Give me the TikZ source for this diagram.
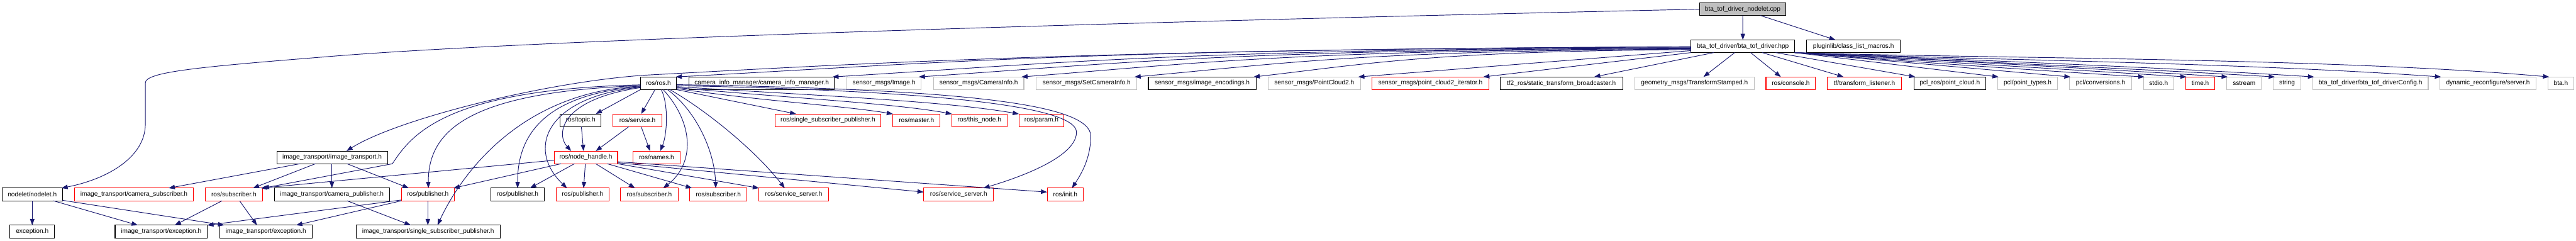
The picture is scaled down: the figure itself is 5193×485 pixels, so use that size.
\documentclass[tikz,border=0pt]{standalone}
\usepackage{fontspec}
\setmainfont{Liberation Sans}
\usetikzlibrary{arrows.meta}
\definecolor{edgeblue}{HTML}{191970}
\definecolor{boxgray}{HTML}{BFBFBF}
\definecolor{boxred}{HTML}{FF0000}
\tikzset{
  bx/.style={draw=black, line width=1.3pt, minimum height=25.6pt, inner sep=0pt, outer sep=0pt,
    anchor=north west, fill=white, font=\fontsize{12.86pt}{15pt}\selectfont},
  rbx/.style={bx, draw=boxred},
  gbx/.style={bx, draw=boxgray},
  edge/.style={draw=edgeblue, line width=1.2pt, -{Triangle[length=12.5pt,width=9pt]}},
}
\begin{document}
\begin{tikzpicture}[x=1pt,y=1pt]
\fill[white] (0,0) rectangle (5193,485);
\useasboundingbox (0,0) rectangle (5193,485);
% rank 0
\node[bx, fill=boxgray, minimum width=174pt] (n0) at (3426,479.3) {bta\_tof\_driver\_nodelet.cpp};
% rank 1
\node[bx, minimum width=209pt] (hpp) at (3409,404.6) {bta\_tof\_driver/bta\_tof\_driver.hpp};
\node[bx, minimum width=189pt] (plug) at (3642,404.6) {pluginlib/class\_list\_macros.h};
% rank 2
\node[bx, minimum width=73pt] (ros) at (1291,330) {ros/ros.h};
\node[bx, minimum width=293pt] (cim) at (1389,330) {camera\_info\_manager/camera\_info\_manager.h};
\node[gbx, minimum width=150pt] (img) at (1707,330) {sensor\_msgs/Image.h};
\node[gbx, minimum width=182pt] (ci) at (1882,330) {sensor\_msgs/CameraInfo.h};
\node[gbx, minimum width=203pt] (sci) at (2089,330) {sensor\_msgs/SetCameraInfo.h};
\node[bx, minimum width=217pt] (enc) at (2315,330) {sensor\_msgs/image\_encodings.h};
\node[gbx, minimum width=187pt] (pc2) at (2556,330) {sensor\_msgs/PointCloud2.h};
\node[rbx, minimum width=235pt] (pci) at (2766,330) {sensor\_msgs/point\_cloud2\_iterator.h};
\node[bx, minimum width=247pt] (stb) at (3024,330) {tf2\_ros/static\_transform\_broadcaster.h};
\node[gbx, minimum width=240pt] (ts) at (3296,330) {geometry\_msgs/TransformStamped.h};
\node[rbx, minimum width=100pt] (con) at (3560,330) {ros/console.h};
\node[rbx, minimum width=149pt] (tfl) at (3684,330) {tf/transform\_listener.h};
\node[bx, minimum width=145pt] (pcr) at (3858,330) {pcl\_ros/point\_cloud.h};
\node[gbx, minimum width=121pt] (pt) at (4027,330) {pcl/point\_types.h};
\node[gbx, minimum width=125pt] (conv) at (4172,330) {pcl/conversions.h};
\node[gbx, minimum width=61pt] (stdio) at (4321,330) {stdio.h};
\node[rbx, minimum width=59pt] (time) at (4406,330) {time.h};
\node[gbx, minimum width=70pt] (ss) at (4489,330) {sstream};
\node[gbx, minimum width=55pt] (str) at (4583,330) {string};
\node[gbx, minimum width=233pt] (cfg) at (4662,330) {bta\_tof\_driver/bta\_tof\_driverConfig.h};
\node[gbx, minimum width=193pt] (srv) at (4919,330) {dynamic\_reconfigure/server.h};
\node[gbx, minimum width=51pt] (bta) at (5137,330) {bta.h};
% rank 3
\node[bx, minimum width=83pt] (topic) at (1129,255.4) {ros/topic.h};
\node[rbx, minimum width=98pt] (svc) at (1236,255.4) {ros/service.h};
\node[rbx, minimum width=214pt] (ssp) at (1562,255.4) {ros/single\_subscriber\_publisher.h};
\node[rbx, minimum width=95pt] (master) at (1800,255.4) {ros/master.h};
\node[rbx, minimum width=111pt] (thisn) at (1919,255.4) {ros/this\_node.h};
\node[rbx, minimum width=91pt] (param) at (2054,255.4) {ros/param.h};
% rank 4
\node[bx, minimum width=223pt] (itr) at (558,180.7) {image\_transport/image\_transport.h};
\node[rbx, minimum width=128pt] (nh) at (1117,180.7) {ros/node\_handle.h};
\node[rbx, minimum width=95pt] (names) at (1276,180.7) {ros/names.h};
% rank 5
\node[bx, minimum width=122pt] (nodelet) at (4,106) {nodelet/nodelet.h};
\node[rbx, minimum width=240pt] (csub) at (150,106) {image\_transport/camera\_subscriber.h};
\node[rbx, minimum width=115pt] (sub1) at (414,106) {ros/subscriber.h};
\node[bx, minimum width=232pt] (cpub) at (553,106) {image\_transport/camera\_publisher.h};
\node[rbx, minimum width=107pt] (pub1) at (809,106) {ros/publisher.h};
\node[bx, minimum width=107pt] (pub2) at (990,106) {ros/publisher.h};
\node[rbx, minimum width=107pt] (pub3) at (1121,106) {ros/publisher.h};
\node[rbx, minimum width=116pt] (sub2) at (1251,106) {ros/subscriber.h};
\node[rbx, minimum width=116pt] (sub3) at (1390,106) {ros/subscriber.h};
\node[rbx, minimum width=140pt] (ss1) at (1530,106) {ros/service\_server.h};
\node[rbx, minimum width=141pt] (ss2) at (1862,106) {ros/service\_server.h};
\node[rbx, minimum width=73pt] (init) at (2111,106) {ros/init.h};
% rank 6
\node[bx, minimum width=90pt] (exc) at (20,31.3) {exception.h};
\node[bx, minimum width=186pt] (ie1) at (232,31.3) {image\_transport/exception.h};
\node[bx, minimum width=186pt] (ie2) at (443,31.3) {image\_transport/exception.h};
\node[bx, minimum width=290pt] (issp) at (718,31.3) {image\_transport/single\_subscriber\_publisher.h};

% ---- edges from top node
\draw[edge] (n0) -- (hpp);
\draw[edge] ([xshift=36]n0.south) -- ([xshift=-36.5]plug.north);
\draw[edge] (n0.west) .. controls (2000,435) and (1000,400) .. (650,370)
  .. controls (400,350) and (293,340) .. (293,318) -- (293,235)
  .. controls (293,170) and (220,125) .. ([xshift=-2]nodelet.north east);

% ---- hpp to the left
\draw[edge] ([yshift=12]hpp.south west) .. controls (2200,386) and (1700,355) .. (1300,333.5)
  .. controls (1100,320) and (800,245) .. ([xshift=29]itr.north);
\draw[edge] ([yshift=11]hpp.south west) .. controls +(-1228,-3) and +(512,27) .. ([xshift=-2]ros.north east);
\draw[edge] ([yshift=10]hpp.south west) .. controls +(-1039,-3) and +(433,26) .. ([xshift=-4]cim.north east);
\draw[edge] ([yshift=9]hpp.south west) .. controls +(-934,-3) and +(389,26) .. ([xshift=-5]img.north east);
\draw[edge] ([yshift=8]hpp.south west) .. controls +(-810,-3) and +(338,26) .. ([xshift=-5]ci.north east);
\draw[edge] ([yshift=7]hpp.south west) .. controls +(-673,-3) and +(281,25) .. ([xshift=-5]sci.north east);
\draw[edge] ([yshift=6]hpp.south west) .. controls +(-529,-3) and +(221,25) .. ([xshift=-5]enc.north east);
\draw[edge] ([yshift=4]hpp.south west) -- ([xshift=-5]pc2.north east);
\draw[edge] (hpp.south west) -- ([xshift=-11]pci.north east);
% ---- hpp downward
\draw[edge] ([xshift=-58.5]hpp.south) -- ([xshift=66]stb.north);
\draw[edge] ([xshift=-16.5]hpp.south) -- ([xshift=18]ts.north);
\draw[edge] ([xshift=15.5]hpp.south) -- ([xshift=-20]con.north);
\draw[edge] ([xshift=39]hpp.south) -- ([xshift=-42]tfl.north);
\draw[edge] ([xshift=66]hpp.south) -- ([xshift=3]pcr.north west);
% ---- hpp to the right
\draw[edge] (hpp.south east) -- ([xshift=2]pt.north west);
\draw[edge] (hpp.south east) -- ([xshift=2]conv.north west);
\draw[edge] (hpp.south east) .. controls (3760,367) and (4150,340) .. ([xshift=2]stdio.north west);
\draw[edge] (hpp.south east) .. controls (3800,367) and (4200,343) .. ([xshift=2]time.north west);
\draw[edge] (hpp.south east) .. controls (3850,367) and (4250,345) .. ([xshift=2]ss.north west);
\draw[edge] (hpp.south east) .. controls (3880,365) and (4300,347) .. ([xshift=3]str.north west);
\draw[edge] (hpp.south east) .. controls (3900,367) and (4350,350) .. ([xshift=3]cfg.north west);
\draw[edge] (hpp.south east) .. controls (3950,365) and (4500,360) .. ([xshift=2]srv.north west);
\draw[edge] (hpp.south east) .. controls (4000,367) and (4700,369) .. ([xshift=2]bta.north west);

% ---- ros/ros.h
\draw[edge] ([yshift=9.6]ros.south west) .. controls (900,305) and (830,215) .. (791,155) -- ([xshift=1]sub1.north east);
\draw[edge] ([yshift=8]ros.south west) .. controls (950,300) and (863,225) .. ([xshift=1]pub1.north);
\draw[edge] ([yshift=7]ros.south west) .. controls (1050,300) and (930,135) .. ([xshift=19]issp.north);
\draw[edge] ([yshift=6]ros.south west) .. controls (1100,295) and (1043,215) .. (pub2.north);
\draw[edge] ([yshift=5]ros.south west) .. controls (1100,290) and (1060,185) .. ([xshift=-31.5]pub3.north);
\draw[edge] ([yshift=4]ros.south west) .. controls (1130,285) and (1120,215) .. ([xshift=-29.5]nh.north);
\draw[edge] (ros.south west) -- ([xshift=30.5]topic.north);
\draw[edge] ([xshift=-7]ros.south) -- ([xshift=7.5]svc.north);
\draw[edge] ([xshift=5.5]ros.south) .. controls +(15,-30) and +(14,34) .. ([xshift=7.5]names.north);
\draw[edge] ([xshift=9.5]ros.south) .. controls (1400,235) and (1400,155) .. ([xshift=28]sub2.north);
\draw[edge] ([xshift=18]ros.south) .. controls (1400,265) and (1440,185) .. ([xshift=-5]sub3.north);
\draw[edge] ([xshift=23]ros.south) .. controls (1420,265) and (1520,185) .. ([xshift=-18]ss1.north);
\draw[edge] (ros.south east) -- ([xshift=-64]ssp.north);
\draw[edge] ([yshift=2]ros.south east) .. controls (1550,280) and (1700,272) .. (master.north west);
\draw[edge] ([yshift=4]ros.south east) .. controls (1600,287) and (1800,277) .. (thisn.north west);
\draw[edge] ([yshift=6]ros.south east) .. controls (1650,292) and (1900,282) .. (param.north west);
\draw[edge] ([yshift=8]ros.south east) .. controls (1900,302) and (2165,270) .. (2170,220)
  .. controls (2172,175) and (2080,135) .. ([xshift=50]ss2.north);
\draw[edge] ([yshift=10]ros.south east) .. controls (1950,305) and (2200,275) .. (2199,210)
  .. controls (2198,165) and (2180,135) .. ([xshift=13.5]init.north);

% ---- rank 3 to rank 4
\draw[edge] ([xshift=1.5]topic.south) -- ([xshift=-4.6]nh.north);
\draw[edge] ([xshift=-17.4]svc.south) -- ([xshift=20]nh.north);
\draw[edge] ([xshift=7.5]svc.south) -- ([xshift=-13]names.north);

% ---- ros/node_handle.h
\draw[edge] ([yshift=7]nh.south west) -- ([xshift=-3]sub1.north east);
\draw[edge] ([xshift=14]nh.south west) -- ([xshift=-2]pub1.north east);
\draw[edge] ([xshift=-23]nh.south) -- ([xshift=25]pub2.north);
\draw[edge] ([xshift=-1]nh.south) -- ([xshift=2]pub3.north);
\draw[edge] ([xshift=20]nh.south) -- ([xshift=-29]sub2.north);
\draw[edge] ([xshift=43]nh.south) -- ([xshift=5]sub3.north west);
\draw[edge] (nh.south east) -- (ss1.north west);
\draw[edge] ([yshift=2]nh.south east) -- ([yshift=-8]ss2.north west);
\draw[edge] ([yshift=4]nh.south east) -- ([yshift=-8]init.north west);

% ---- image_transport/image_transport.h
\draw[edge] ([xshift=-64.5]itr.south) -- ([xshift=70]csub.north);
\draw[edge] ([xshift=-33.5]itr.south) -- ([xshift=38.5]sub1.north);
\draw[edge] ([xshift=-0.5]itr.south) -- (cpub.north);
\draw[edge] ([xshift=30]itr.south) -- ([xshift=-38.5]pub1.north);

% ---- rank 5 to rank 6
\draw[edge] ([xshift=30.7]cpub.south) -- ([xshift=-35]issp.north);
\draw[edge] (pub1.south) -- ([xshift=-0.5]issp.north);
\draw[edge] ([yshift=1.6]pub1.south west) -- (ie1.north east);
\draw[edge] (pub1.south west) -- ([xshift=61]ie2.north);
\draw[edge] ([xshift=-23.8]sub1.south) -- ([xshift=27.3]ie1.north);
\draw[edge] ([xshift=11.5]sub1.south) -- ([xshift=-18]ie2.north);
\draw[edge] (nodelet) -- (exc);
\draw[edge] ([xshift=42.8]nodelet.south) -- ([xshift=-47.3]ie1.north);
\draw[edge] ([yshift=1]nodelet.south east) -- ([xshift=9]ie2.north west);
\end{tikzpicture}
\end{document}
